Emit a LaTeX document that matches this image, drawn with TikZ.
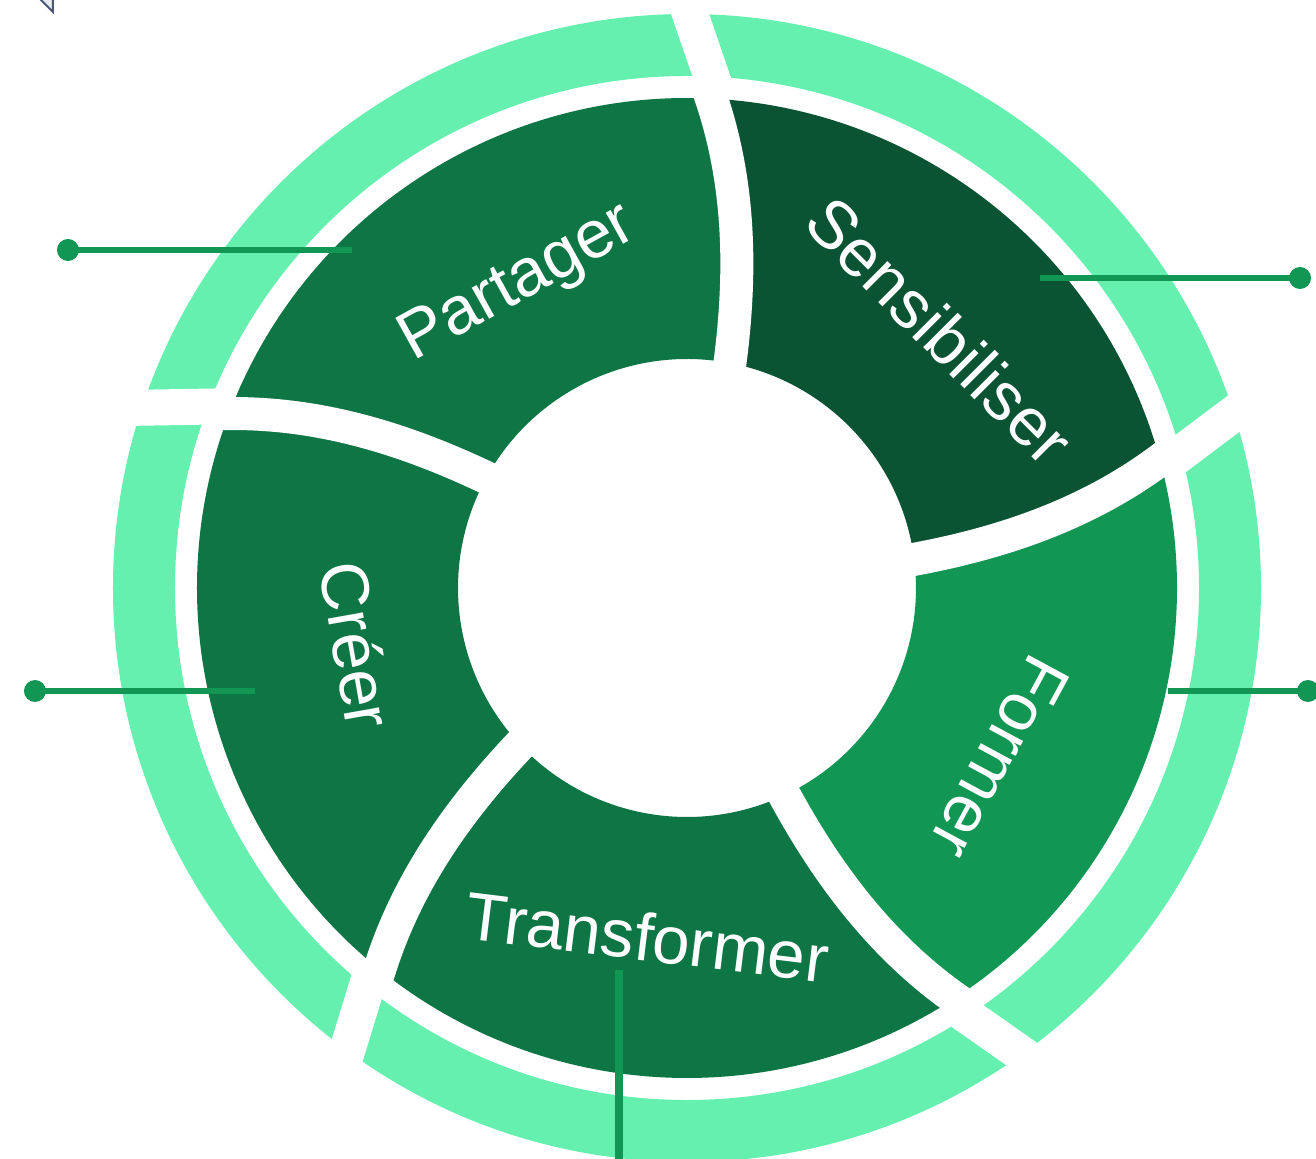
\documentclass[tikz,border=0pt]{standalone}
\usepackage{fontspec}
\setmainfont{Liberation Sans}
\usetikzlibrary{calc}
\definecolor{ringgreen}{HTML}{66F0B0}
\definecolor{segmain}{HTML}{0E7544}
\definecolor{segdark}{HTML}{0A5434}
\definecolor{seglight}{HTML}{119654}
\definecolor{linkgreen}{HTML}{119654}
\definecolor{iconstroke}{HTML}{4B5873}
\definecolor{iconfill}{HTML}{E8EAEE}
\begin{document}
\begin{tikzpicture}[x=0.75pt,y=0.75pt,
  declare function={gf(\t)=0.01522*(\t-230)+0.59*((\t-230)/100)^2;},
  seggap/.style={draw=white,line width=24.75pt},
  ringgap/.style={draw=white,line width=27pt},
  lbl/.style={text=white,font=\fontsize{50.5}{55}\selectfont,anchor=base,inner sep=0pt},
  link/.style={draw=linkgreen,line width=5pt},
  dot/.style={circle,fill=linkgreen,inner sep=0pt,minimum size=16.5pt},
]
\fill[white] (-687,-571) rectangle (629,588);
\useasboundingbox (-687,-571) rectangle (629,588);
% small icon cut at the top edge
\filldraw[fill=iconfill,draw=iconstroke,line width=1.5pt] (-652,594) -- (-634,576) -- (-634,594);
% outer ring
\fill[ringgreen,even odd rule] (0,0) circle[radius=574] (0,0) circle[radius=512];
\foreach \k in {0,...,4} \draw[ringgap] ({86.7-72*\k}:500) -- ({90.3-72*\k}:592);
% segments
\foreach \A/\col in {79.2/segdark,7.2/seglight,-64.8/segmain,-136.8/segmain,-208.8/segmain}{
  \pgfmathsetmacro{\B}{\A-72}
  \pgfmathsetmacro{\Ao}{\A+gf(490)}
  \pgfmathsetmacro{\Bo}{\B+gf(490)}
  \fill[\col] (\A:229) arc[start angle=\A,end angle=\B,radius=229]
    -- plot[domain=229:490,samples=30,variable=\t] ({\B+gf(\t)}:\t)
    arc[start angle=\Bo,end angle=\Ao,radius=490]
    -- plot[domain=490:229,samples=30,variable=\t] ({\A+gf(\t)}:\t) -- cycle;
}
\foreach \A in {79.2,7.2,-64.8,-136.8,-208.8}
  \draw[seggap] plot[domain=212:502,samples=40,variable=\t] ({\A+gf(\t)}:\t);
% labels
\node[lbl,rotate=29] (partager) at (119:331) {Partager};
\node[lbl,rotate=-45] (sensibiliser) at (45.6:337) {Sensibiliser};
\node[lbl,rotate=-118.4] (former) at (-28.4:333) {Former};
\node[lbl,rotate=-7] (transformer) at (-96.5:375) {Transformer};
\node[lbl,rotate=-80] (creer) at (189.8:359) {Créer};
% connectors
\node[dot] (d1) at (-619,338) {};
\coordinate (e1) at (-335,338);
\node[dot] (d2) at (613,310) {};
\coordinate (e2) at (353,310);
\node[dot] (d3) at (-652,-103) {};
\coordinate (e3) at (-432,-103);
\node[dot] (d4) at (621,-103) {};
\coordinate (e4) at (481,-103);
\coordinate (e5) at (-68,-382);
\coordinate (f5) at (-68,-580);
\draw[link] (d1.center) -- (e1);
\draw[link] (d2.center) -- (e2);
\draw[link] (d3.center) -- (e3);
\draw[link] (d4.center) -- (e4);
\draw[link,line width=6pt] (e5) -- (f5);
\end{tikzpicture}
\end{document}
